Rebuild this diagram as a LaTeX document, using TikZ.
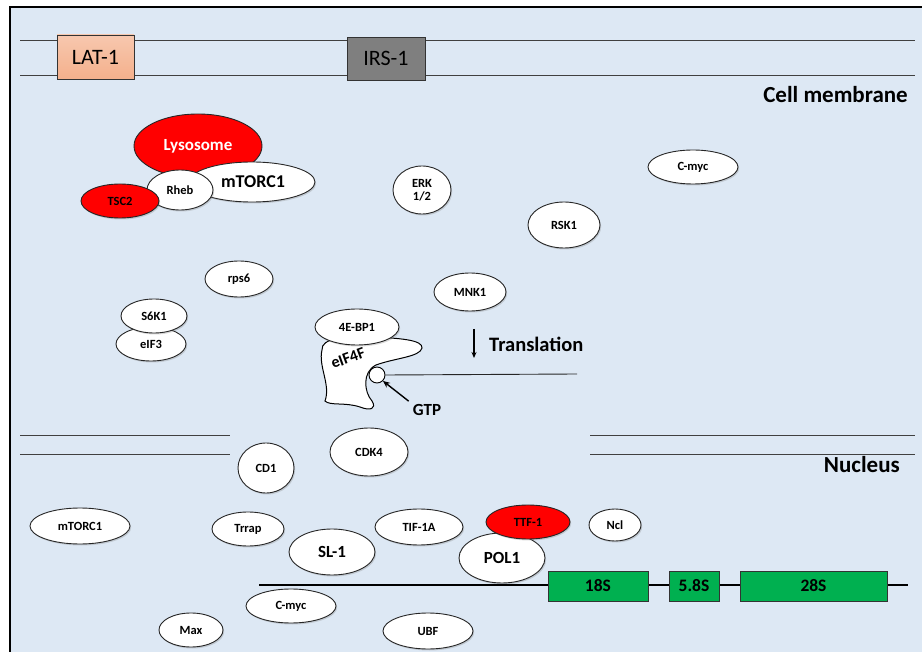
\documentclass[tikz,border=0pt]{standalone}
\usepackage{fontspec}
\setmainfont{Carlito}
\usetikzlibrary{shapes.geometric,shadows,arrows.meta}
\definecolor{bgblue}{HTML}{DDE8F4}
\definecolor{salmon}{HTML}{F4B08C}
\definecolor{irsgray}{HTML}{7F7F7F}
\definecolor{rnagreen}{HTML}{00B050}
\definecolor{linegray}{HTML}{404040}
\newcommand{\fs}[1]{\fontsize{#1}{#1}\selectfont}
\tikzset{
  ell/.style={ellipse, draw=black!85, fill=white, line width=0.9pt, inner sep=0pt,
    font=\bfseries\fs{12.5}, drop shadow={shadow xshift=1.2pt, shadow yshift=-1.5pt, opacity=0.3}},
  redell/.style={ell, fill=red},
  memline/.style={draw=linegray, line width=1pt},
  rnabox/.style={draw=black!80, fill=rnagreen, line width=0.8pt, inner sep=0pt, font=\bfseries\fs{17.5}},
  membox/.style={draw=black!80, line width=0.8pt, inner sep=0pt, font=\fs{22}},
  title/.style={font=\bfseries\fs{23}, inner sep=0pt}
}
\begin{document}
\begin{tikzpicture}[x=1pt,y=-1pt]
\useasboundingbox (0,0) rectangle (922,652);
\fill[white] (0,0) rectangle (922,652);
\fill[bgblue] (10,7) rectangle (922,652);
\draw[black, line width=2.5pt] (10,652) -- (10,7) -- (922,7);

% cell membrane
\coordinate (m1l) at (20,41); \coordinate (m1r) at (915,41);
\coordinate (m2l) at (20,76); \coordinate (m2r) at (915,76);
\draw[memline] (m1l) -- (m1r);
\draw[memline] (m2l) -- (m2r);
\node[membox, top color=salmon!70, bottom color=salmon, minimum width=77pt, minimum height=44pt] (lat) at (95.5,57) {LAT-1};
\node[membox, fill=irsgray, minimum width=78pt, minimum height=43pt] (irs) at (386,58.5) {IRS-1};
\node[title, anchor=east] (cellmem) at (908,95) {Cell membrane};

% lysosome complex
\node[ellipse, draw=black!85, fill=red, line width=0.9pt, minimum width=128pt, minimum height=64pt, text=white, font=\bfseries\fs{17}] (lyso) at (198,146) {Lysosome};
\node[ell, minimum width=126pt, minimum height=40pt, font=\bfseries\fs{18}] (mtorc) at (252,182) {\hspace*{2pt}mTORC1};
\node[ell, minimum width=66pt, minimum height=40pt] (rheb) at (180,190) {Rheb};
\node[redell, minimum width=78pt, minimum height=34pt] (tsc) at (120,201) {TSC2};

\node[ell, minimum width=58pt, minimum height=48pt, align=center] (erk) at (422,190) {ERK\\[1pt]1/2};
\node[ell, minimum width=90pt, minimum height=34pt] (cmyc1) at (693,167) {C-myc};
\node[ell, minimum width=72pt, minimum height=46pt] (rsk) at (564,225) {RSK1};
\node[ell, minimum width=68pt, minimum height=36pt] (rps) at (239,279) {rps6};
\node[ell, minimum width=72pt, minimum height=38pt] (mnk) at (470,292) {MNK1};
\node[ell, minimum width=70pt, minimum height=34pt] (eif3) at (151,344) {eIF3};
\node[ell, minimum width=66pt, minimum height=34pt] (s6k) at (154,316) {S6K1};

% eIF4F
\draw[black, line width=1pt, fill=white] (322,350) .. controls (321,338) and (345,336) .. (370,337)
  .. controls (400,338) and (423,340) .. (422,348)
  .. controls (420,357) and (395,358) .. (376,365)
  .. controls (362,372) and (364,392) .. (372,401)
  .. controls (377,409) and (370,411) .. (360,407)
  .. controls (345,402) and (330,406) .. (325,401)
  .. controls (331,385) and (318,366) .. (322,350);
\node[font=\bfseries\fs{16}, rotate=20, inner sep=0pt] (eif4f) at (348,358) {eIF4F};
\node[ell, minimum width=84pt, minimum height=36pt] (bp1) at (357,327) {4E-BP1};
\node[circle, draw=black, fill=white, line width=0.9pt, minimum size=16pt, inner sep=0pt] (gtpc) at (377,375) {};
\coordinate (mrna) at (577,374);
\draw[black!85, line width=0.9pt] (gtpc.east) -- (mrna);
\node[font=\bfseries\fs{17}, inner sep=0pt] (gtp) at (427,410) {GTP};
\draw[-{Stealth[length=7pt,width=6pt]}, line width=1.4pt] (gtp.north west) ++(-4,-3) -- (gtpc.south east);
\coordinate (tr1) at (474,329); \coordinate (tr2) at (474,358);
\draw[-{Stealth[length=6pt,width=5pt]}, line width=1.2pt] (tr1) -- (tr2);
\node[font=\bfseries\fs{20.5}, inner sep=0pt, anchor=west] (transl) at (489,344) {Translation};

% nuclear membrane
\coordinate (n1a) at (20,436); \coordinate (n1b) at (230,436);
\coordinate (n2a) at (20,455); \coordinate (n2b) at (230,455);
\coordinate (n3a) at (590,436); \coordinate (n3b) at (915,436);
\coordinate (n4a) at (590,455); \coordinate (n4b) at (915,455);
\draw[memline] (n1a) -- (n1b);
\draw[memline] (n2a) -- (n2b);
\draw[memline] (n3a) -- (n3b);
\draw[memline] (n4a) -- (n4b);
\node[title, anchor=east] (nucleus) at (900,465) {Nucleus};

\node[ell, minimum width=56pt, minimum height=50pt] (cd1) at (266,468) {CD1};
\node[ell, minimum width=78pt, minimum height=48pt] (cdk4) at (369,452) {CDK4};
\node[ell, minimum width=100pt, minimum height=36pt] (mtorcn) at (80,526) {mTORC1};
\node[ell, minimum width=72pt, minimum height=34pt] (trrap) at (248,529) {Trrap};
\node[ell, minimum width=88pt, minimum height=36pt] (tif) at (419,527) {TIF-1A};
\node[ell, minimum width=86pt, minimum height=46pt, font=\bfseries\fs{17}] (sl1) at (332,552) {SL-1};
\node[ell, minimum width=86pt, minimum height=50pt, font=\bfseries\fs{17}] (pol) at (502,558) {POL1};
\node[redell, minimum width=84pt, minimum height=34pt] (ttf) at (528,522) {TTF-1};
\node[ell, minimum width=52pt, minimum height=32pt] (ncl) at (615,525) {Ncl};

% rDNA
\coordinate (dnal) at (259,585); \coordinate (dnar) at (908,585);
\draw[black, line width=1.2pt] (dnal) -- (dnar);
\node[rnabox, minimum width=100pt, minimum height=30pt] (s18) at (598,586) {18S};
\node[rnabox, minimum width=50pt, minimum height=30pt] (s58) at (694,586) {5.8S};
\node[rnabox, minimum width=147pt, minimum height=30pt] (s28) at (813.5,586) {28S};

\node[ell, minimum width=90pt, minimum height=34pt] (cmyc2) at (291,606) {C-myc};
\node[ell, minimum width=64pt, minimum height=34pt] (max) at (191,630) {Max};
\node[ell, minimum width=90pt, minimum height=36pt] (ubf) at (428,631) {UBF};
\end{tikzpicture}
\end{document}
